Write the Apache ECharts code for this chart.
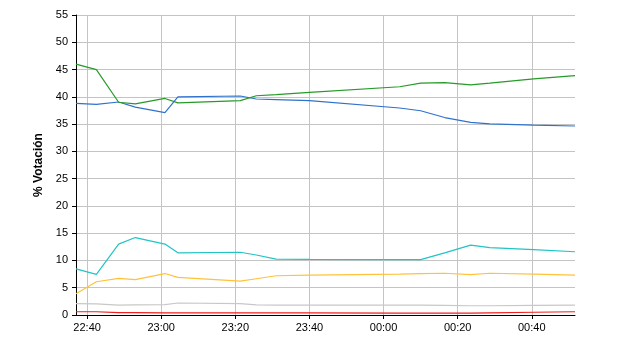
<!DOCTYPE html>
<html>
<head>
<meta charset="utf-8">
<script src="https://cdn.jsdelivr.net/npm/echarts@6/dist/echarts.min.js"></script>
<style>
html,body{margin:0;padding:0;background:#fff;}
#chart{width:640px;height:350px;}
</style>
</head>
<body>
<div id="chart"></div>
<script>
// ---- data ----
const times = ['22:37','22:42:30','22:48:30','22:53','23:01','23:04:30','23:21:20','23:25:40','23:31','23:40','00:04:20','00:10','00:16:30','00:23:30','00:28:40','00:40:30','00:51:40'];
const green  = [46.0, 45.0, 39.0, 38.7, 39.7, 38.9, 39.3, 40.2, 40.4, 40.8, 41.85, 42.5, 42.6, 42.2, 42.5, 43.3, 43.9];
const blue   = [38.8, 38.6, 39.05, 38.1, 37.1, 40.0, 40.15, 39.6, 39.5, 39.3, 37.95, 37.45, 36.2, 35.3, 35.05, 34.8, 34.65];
const cyan   = [8.45, 7.45, 13.0, 14.2, 13.0, 11.4, 11.5, 11.0, 10.25, 10.2, 10.15, 10.15, 11.4, 12.8, 12.35, 12.0, 11.6];
const yellow = [3.9, 6.1, 6.7, 6.5, 7.6, 6.9, 6.2, 6.65, 7.2, 7.3, 7.5, 7.6, 7.65, 7.4, 7.65, 7.5, 7.3];
const gray   = [2.1, 2.05, 1.8, 1.85, 1.9, 2.2, 2.1, 1.85, 1.8, 1.8, 1.8, 1.8, 1.75, 1.7, 1.7, 1.75, 1.8];
const red    = [0.6, 0.6, 0.45, 0.45, 0.4, 0.4, 0.4, 0.4, 0.4, 0.4, 0.35, 0.35, 0.35, 0.35, 0.4, 0.5, 0.6];
const xTickLabels = ['22:40','23:00','23:20','23:40','00:00','00:20','00:40'];
const yTicks = [0,5,10,15,20,25,30,35,40,45,50,55];
const yName = '% Votación';

// minutes since 22:00 (after midnight continues)
function toMin(s){
  const p = s.split(':').map(Number);
  let h = p[0]; if (h < 12) h += 24;
  return (h - 22) * 60 + p[1] + (p[2] || 0) / 60;
}
function fmt(v){
  const tot = Math.round(v);
  const h = (22 + Math.floor(tot / 60)) % 24;
  const m = tot % 60;
  return String(h).padStart(2,'0') + ':' + String(m).padStart(2,'0');
}
const xs = times.map(toMin);
function mk(vals){ return xs.map((x,i)=>[x, vals[i]]); }
const xTickVals = xTickLabels.map(toMin);

const font = '"Liberation Sans", Arial, sans-serif';
const chart = echarts.init(document.getElementById('chart'), null, {renderer:'canvas'});
const seriesDefs = [
  {name:'gray', data: gray, color:'#c8c8c8'},
  {name:'red', data: red, color:'#ee2020'},
  {name:'yellow', data: yellow, color:'#ffc23a'},
  {name:'cyan', data: cyan, color:'#22c4c4'},
  {name:'blue', data: blue, color:'#2f72cc'},
  {name:'green', data: green, color:'#279a27'}
];
chart.setOption({
  animation: false,
  backgroundColor: '#fff',
  grid: {left: 76, right: 65, top: 15, bottom: 35, containLabel: false},
  xAxis: {
    type: 'value',
    min: xs[0], max: xs[xs.length-1],
    splitNumber: 7, minInterval: 20, maxInterval: 20,
    axisLine: {show: true, lineStyle: {color: '#000', width: 1}},
    axisTick: {show: true, length: 4, lineStyle: {color: '#000'}, customValues: xTickVals},
    axisLabel: {color: '#000', fontSize: 11, fontFamily: font, margin: 7,
      customValues: xTickVals, formatter: fmt},
    splitLine: {show: true, lineStyle: {color: '#c4c4c4', width: 1}}
  },
  yAxis: {
    type: 'value', min: yTicks[0], max: yTicks[yTicks.length-1], interval: yTicks[1]-yTicks[0],
    name: yName, nameLocation: 'middle', nameRotate: 90, nameGap: 24,
    nameTextStyle: {color: '#000', fontSize: 12, fontWeight: 'bold', fontFamily: font},
    axisLine: {show: true, lineStyle: {color: '#000', width: 1}},
    axisTick: {show: true, length: 4, inside: false, lineStyle: {color: '#000'}},
    axisLabel: {color: '#000', fontSize: 11, fontFamily: font, margin: 8},
    splitLine: {show: true, lineStyle: {color: '#c4c4c4', width: 1}}
  },
  series: seriesDefs.map(s => ({
    name: s.name, type: 'line', data: mk(s.data), showSymbol: false, symbol: 'none',
    lineStyle: {color: s.color, width: 1.2}, itemStyle: {color: s.color}, silent: true
  }))
});
</script>
</body>
</html>
